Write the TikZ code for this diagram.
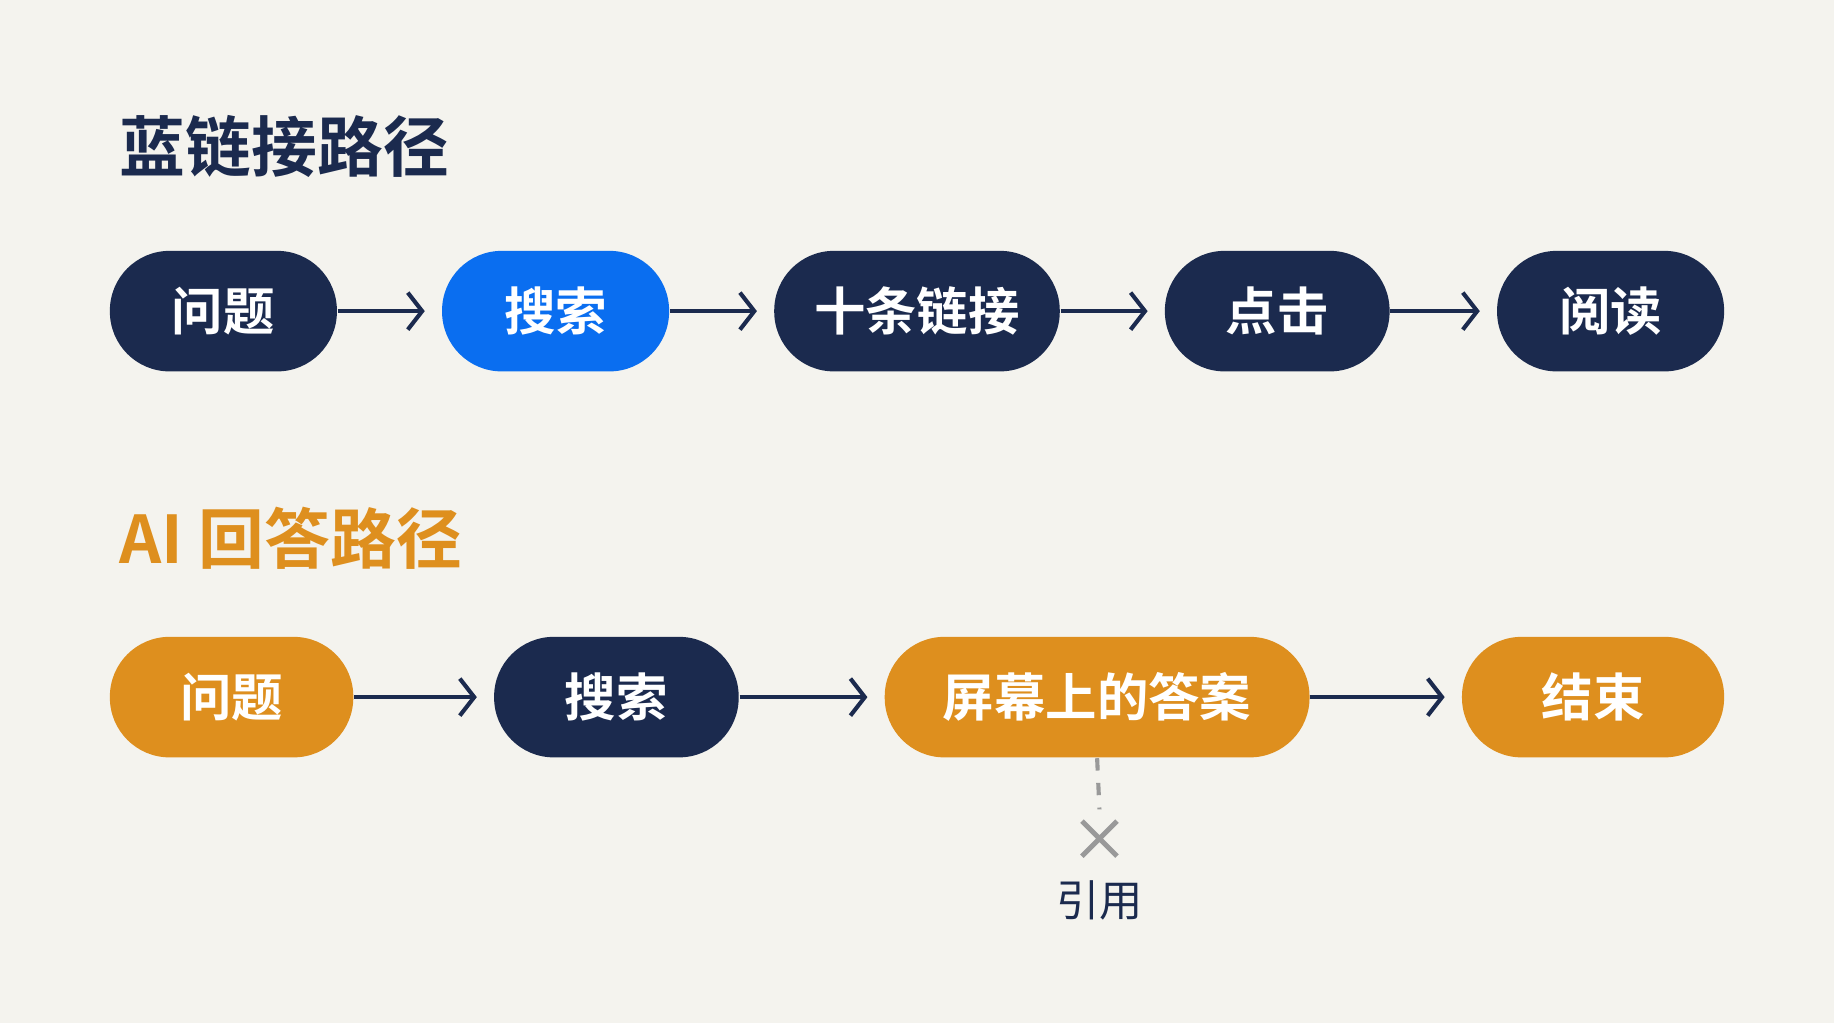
\documentclass[tikz,border=0pt]{standalone}
\usepackage{fontspec}
\setmainfont{Noto Sans CJK SC}[BoldFont={Noto Sans CJK SC Bold}]
\usetikzlibrary{positioning,arrows.meta}
\definecolor{navy}{HTML}{1B2A4E}
\definecolor{brightblue}{HTML}{0A6EF0}
\definecolor{amber}{HTML}{DE8F1E}
\definecolor{paper}{HTML}{F4F3EE}
\tikzset{
	pathstep/.style={rounded corners=0.51cm, minimum height=1.03cm, inner sep=0pt,
		text=white, font=\fontsize{12.5}{12.5}\selectfont\bfseries},
	flow/.style={-{Straight Barb[length=3.5pt,width=9pt]}, line width=1pt, navy, shorten >=4pt},
	heading/.style={anchor=west, font=\fontsize{16}{16}\selectfont\bfseries}
}

\begin{document}
\begin{tikzpicture}[x=0.01cm, y=-0.01cm]
	\fill[paper] (0,0) rectangle (1568,875);
	\useasboundingbox (0,0) rectangle (1568,875);

	% blue link path
	\node[heading, text=navy] (title1) at (90, 125) {蓝链接路径};
	\node[pathstep, fill=navy, minimum width=1.94cm] (q1) at (191, 266) {问题};
	\node[pathstep, fill=brightblue, minimum width=1.94cm] (s1) at (475, 266) {搜索};
	\node[pathstep, fill=navy, minimum width=2.44cm] (links) at (784, 266) {十条链接};
	\node[pathstep, fill=navy, minimum width=1.92cm] (click) at (1092, 266) {点击};
	\node[pathstep, fill=navy, minimum width=1.94cm] (read) at (1377, 266) {阅读};

	\draw[flow] (q1) -- (s1);
	\draw[flow] (s1) -- (links);
	\draw[flow] (links) -- (click);
	\draw[flow] (click) -- (read);

	% AI answer path
	\node[heading, text=amber] (title2) at (90, 460) {AI 回答路径};
	\node[pathstep, fill=amber, minimum width=2.08cm] (q2) at (198, 596) {问题};
	\node[pathstep, fill=navy, minimum width=2.09cm] (s2) at (527, 596) {搜索};
	\node[pathstep, fill=amber, minimum width=3.63cm] (answer) at (938, 596) {屏幕上的答案};
	\node[pathstep, fill=amber, minimum width=2.24cm] (done) at (1362, 596) {结束};

	\draw[flow] (q2) -- (s2);
	\draw[flow] (s2) -- (answer);
	\draw[flow] (answer) -- (done);

	\coordinate (cross) at (940, 717);
	\draw[gray!80, line width=1pt, dashed] (answer.south) -- (940, 692);
	\draw[gray!80, line width=1.2pt] (925, 702) -- (955, 732) (925, 732) -- (955, 702);
	\node[text=navy, font=\fontsize{10.5}{10.5}\selectfont] (cite) at (940, 770) {引用};
\end{tikzpicture}
\end{document}
